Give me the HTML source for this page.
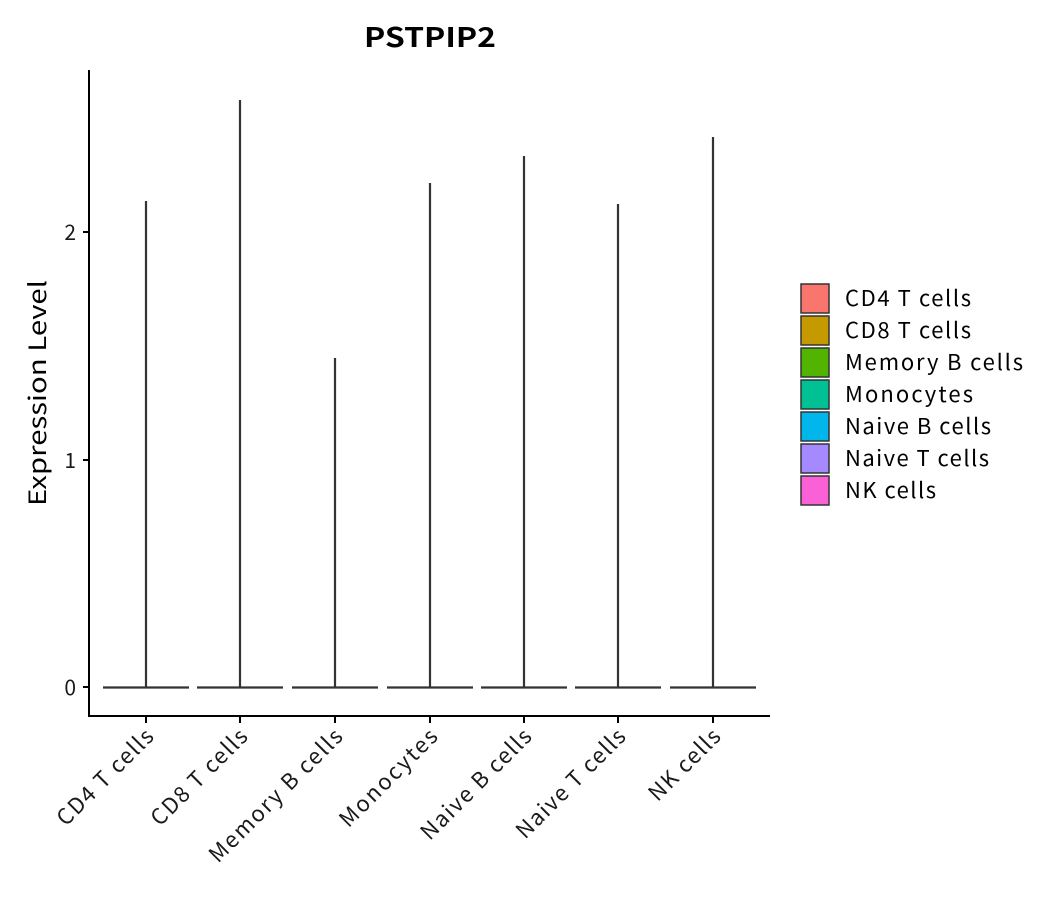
<!DOCTYPE html>
<html><head><style>body{margin:0;background:#fff}</style></head><body>
<svg width="1050" height="900" xmlns="http://www.w3.org/2000/svg" font-family="Noto Sans CJK JP, DejaVu Sans, sans-serif">
<rect width="1050" height="900" fill="#fff"/>
<text x="430" y="47" text-anchor="middle" font-size="27" font-weight="bold" fill="#000" textLength="132" lengthAdjust="spacingAndGlyphs">PSTPIP2</text>
<g stroke="#333" stroke-width="2.2" fill="none">
<path d="M103 687.5 L189 687.5 M146 687 L146 201"/>
<path d="M197 687.5 L283 687.5 M240 687 L240 100"/>
<path d="M292 687.5 L378 687.5 M335 687 L335 358"/>
<path d="M387 687.5 L473 687.5 M430 687 L430 183"/>
<path d="M481 687.5 L567 687.5 M524 687 L524 156"/>
<path d="M575 687.5 L661 687.5 M618 687 L618 204"/>
<path d="M670 687.5 L756 687.5 M713 687 L713 137"/>
</g>
<g stroke="#000" stroke-width="2">
<line x1="89" y1="70" x2="89" y2="717"/>
<line x1="88" y1="716" x2="770" y2="716"/>
<line x1="83" y1="687" x2="89" y2="687"/>
<line x1="83" y1="460" x2="89" y2="460"/>
<line x1="83" y1="232" x2="89" y2="232"/>
<line x1="146" y1="716" x2="146" y2="723"/>
<line x1="240" y1="716" x2="240" y2="723"/>
<line x1="335" y1="716" x2="335" y2="723"/>
<line x1="430" y1="716" x2="430" y2="723"/>
<line x1="524" y1="716" x2="524" y2="723"/>
<line x1="618" y1="716" x2="618" y2="723"/>
<line x1="713" y1="716" x2="713" y2="723"/>
</g>
<g font-size="21" fill="#1a1a1a" text-anchor="end">
<text x="76" y="695">0</text>
<text x="76" y="468">1</text>
<text x="76" y="240">2</text>
</g>
<text transform="translate(46,393) rotate(-90)" text-anchor="middle" font-size="24" fill="#000" textLength="226" lengthAdjust="spacingAndGlyphs">Expression Level</text>
<g font-size="22" fill="#1a1a1a" text-anchor="end" lengthAdjust="spacingAndGlyphs">
<text transform="translate(155,738) rotate(-45)" textLength="126">CD4 T cells</text>
<text transform="translate(249,738) rotate(-45)" textLength="126">CD8 T cells</text>
<text transform="translate(344,738) rotate(-45)" textLength="178">Memory B cells</text>
<text transform="translate(439,738) rotate(-45)" textLength="128">Monocytes</text>
<text transform="translate(533,738) rotate(-45)" textLength="146">Naive B cells</text>
<text transform="translate(627,738) rotate(-45)" textLength="144">Naive T cells</text>
<text transform="translate(722,738) rotate(-45)" textLength="91">NK cells</text>
</g>
<g stroke="#333" stroke-width="1.5">
<rect x="801" y="284" width="28" height="29" fill="#F8766D"/>
<rect x="801" y="316" width="28" height="29" fill="#C49A00"/>
<rect x="801" y="348" width="28" height="29" fill="#53B400"/>
<rect x="801" y="380" width="28" height="29" fill="#00C094"/>
<rect x="801" y="412" width="28" height="29" fill="#00B6EB"/>
<rect x="801" y="444" width="28" height="29" fill="#A58AFF"/>
<rect x="801" y="476" width="28" height="29" fill="#FB61D7"/>
</g>
<g font-size="22" fill="#000" lengthAdjust="spacingAndGlyphs">
<text x="845" y="306" textLength="126">CD4 T cells</text>
<text x="845" y="338" textLength="126">CD8 T cells</text>
<text x="845" y="370" textLength="178">Memory B cells</text>
<text x="845" y="402" textLength="128">Monocytes</text>
<text x="845" y="434" textLength="146">Naive B cells</text>
<text x="845" y="466" textLength="144">Naive T cells</text>
<text x="845" y="498" textLength="91">NK cells</text>
</g>
</svg>
</body></html>
